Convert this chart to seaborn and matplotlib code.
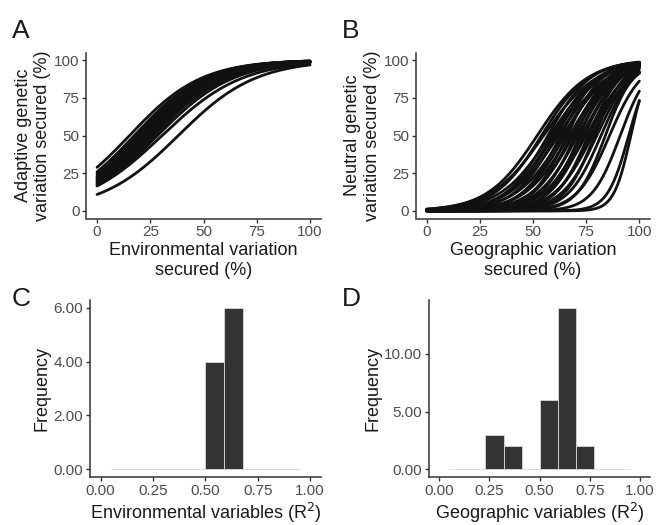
import numpy as np
import pandas as pd
import matplotlib
matplotlib.use("Agg")
import matplotlib.pyplot as plt
import seaborn as sns
from matplotlib.ticker import FormatStrFormatter

# ---- data ----
# Panel A: logistic fits (intercept, slope) for adaptive genetic variation curves
adaptive_intercept = [-2.10, -1.62, -1.59, -1.55, -1.52, -1.48, -1.45, -1.42, -1.39,
                      -1.35, -1.32, -1.29, -1.27, -1.24, -1.21, -1.15, -1.10, -1.05, -0.90]
adaptive_slope = [0.055, 0.053, 0.056, 0.058, 0.057, 0.059, 0.056, 0.060, 0.058,
                  0.061, 0.057, 0.060, 0.058, 0.062, 0.059, 0.060, 0.061, 0.060, 0.059]

# Panel B: logistic fits (midpoint, rate) for neutral genetic variation curves
neutral_midpoint = [52, 54, 55, 57, 58, 59, 60, 61, 62, 63, 64, 65, 66, 67, 68, 69,
                    70, 71, 72, 73, 74, 75, 76, 77, 78, 79, 80, 82, 84, 86, 91, 95, 96]
neutral_rate = [0.085, 0.09, 0.08, 0.10, 0.085, 0.095, 0.09, 0.10, 0.085, 0.11, 0.09,
                0.10, 0.12, 0.095, 0.11, 0.10, 0.12, 0.105, 0.13, 0.11, 0.12, 0.10,
                0.13, 0.12, 0.11, 0.14, 0.12, 0.13, 0.15, 0.13, 0.15, 0.20, 0.25]

# Panels C and D: histograms (bin edges and counts)
bin_edges = [0.05, 0.14, 0.23, 0.32, 0.41, 0.50, 0.59, 0.68, 0.77, 0.86, 0.95]
env_counts = [0, 0, 0, 0, 0, 4, 6, 0, 0, 0]
geo_counts = [0, 0, 3, 2, 0, 6, 14, 2, 0, 0]

# ---- build long tables ----
xs = np.linspace(0, 100, 201)
rows = []
for i, (a, b) in enumerate(zip(adaptive_intercept, adaptive_slope)):
    y = 100 / (1 + np.exp(-(a + b * xs)))
    rows.append(pd.DataFrame({"x": xs, "y": y, "curve": i}))
dfA = pd.concat(rows)
rows = []
for i, (m, k) in enumerate(zip(neutral_midpoint, neutral_rate)):
    y = 100 / (1 + np.exp(-k * (xs - m)))
    rows.append(pd.DataFrame({"x": xs, "y": y, "curve": i}))
dfB = pd.concat(rows)
centers = [(bin_edges[i] + bin_edges[i + 1]) / 2 for i in range(len(bin_edges) - 1)]

# ---- style ----
sns.set_theme(style="ticks")
plt.rcParams["font.family"] = ["Liberation Sans", "DejaVu Sans"]
AX_COL = "#333333"
TICK_COL = "#4d4d4d"

fig = plt.figure(figsize=(6.56, 5.25), dpi=100)
W, H = 656, 525

def add_ax(l, t, r, b):
    return fig.add_axes([l / W, 1 - b / H, (r - l) / W, (b - t) / H])

axA = add_ax(86.4, 52.5, 320.6, 218.5)
axB = add_ax(416.0, 52.5, 650.0, 218.5)
axC = add_ax(90.2, 299.6, 320.5, 477.3)
axD = add_ax(429.3, 299.6, 650.0, 477.3)

sns.lineplot(data=dfA, x="x", y="y", units="curve", estimator=None, ax=axA,
             color="#111111", linewidth=2.0, legend=False)
sns.lineplot(data=dfB, x="x", y="y", units="curve", estimator=None, ax=axB,
             color="#111111", linewidth=2.0, legend=False)

for ax, counts in ((axC, env_counts), (axD, geo_counts)):
    sns.histplot(x=centers, weights=counts, bins=bin_edges, ax=ax,
                 color="#333333", alpha=1.0, edgecolor="#d9d9d9", linewidth=0.6)

for ax in (axA, axB):
    ax.set_xlim(-5, 105)
    ax.set_ylim(-5, 105)
    ax.set_xticks([0, 25, 50, 75, 100])
    ax.set_yticks([0, 25, 50, 75, 100])

axC.set_xlim(-0.05, 1.05)
axC.set_ylim(-0.3, 6.3)
axC.set_yticks([0, 2, 4, 6])
axD.set_xlim(-0.05, 1.05)
axD.set_ylim(-0.7, 14.7)
axD.set_yticks([0, 5, 10])
for ax in (axC, axD):
    ax.set_xticks([0, 0.25, 0.5, 0.75, 1.0])
    ax.xaxis.set_major_formatter(FormatStrFormatter("%.2f"))
    ax.yaxis.set_major_formatter(FormatStrFormatter("%.2f"))

axA.set_xlabel("Environmental variation\nsecured (%)")
axA.set_ylabel("Adaptive genetic\nvariation secured (%)")
axB.set_xlabel("Geographic variation\nsecured (%)")
axB.set_ylabel("Neutral genetic\nvariation secured (%)")
axC.set_xlabel("Environmental variables (R$^2$)")
axC.set_ylabel("Frequency")
axD.set_xlabel("Geographic variables (R$^2$)")
axD.set_ylabel("Frequency")

for ax in (axA, axB, axC, axD):
    sns.despine(ax=ax)
    for s in ("left", "bottom"):
        ax.spines[s].set_color(AX_COL)
        ax.spines[s].set_linewidth(1.1)
    ax.tick_params(axis="both", colors=AX_COL, labelcolor=TICK_COL, labelsize=11,
                   length=3, width=1.0, pad=2)
    ax.xaxis.label.set_size(13)
    ax.yaxis.label.set_size(13)
    ax.xaxis.label.set_color("#1a1a1a")
    ax.yaxis.label.set_color("#1a1a1a")
    ax.xaxis.labelpad = 2
    ax.yaxis.labelpad = 2
    ax.grid(False)

for letter, (px, py) in {"A": (12, 38), "B": (342, 38), "C": (12, 306), "D": (342, 306)}.items():
    fig.text(px / W, 1 - py / H, letter, fontsize=19, color="#1a1a1a", ha="left", va="baseline")

fig.savefig("out.png", dpi=100, facecolor="white")
